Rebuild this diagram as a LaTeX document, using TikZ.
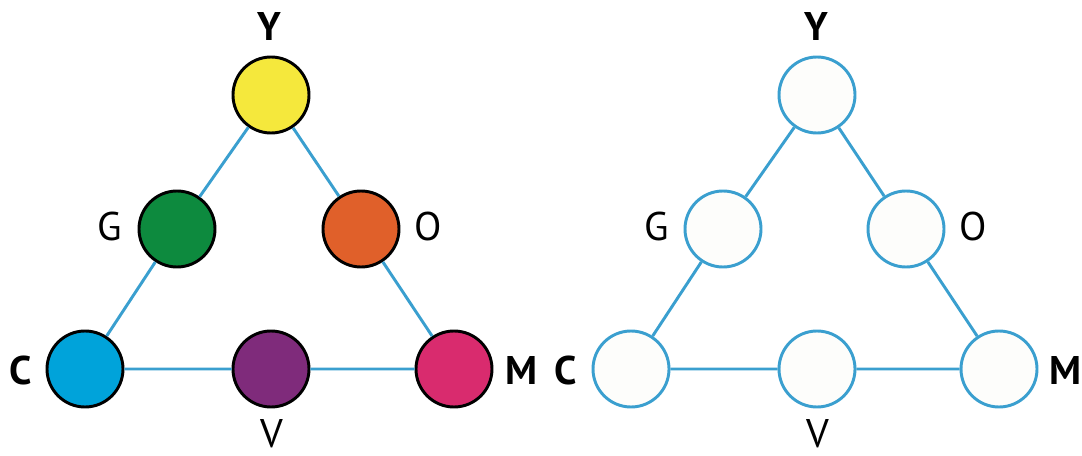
\documentclass[tikz,border=0pt]{standalone}
\usepackage{fontspec}
\setmainfont{PT Sans}
\usepackage{tikz}

\definecolor{linkblue}{HTML}{3A9FCF}
\definecolor{cyell}{HTML}{F5E83C}
\definecolor{cgreen}{HTML}{0D8A3E}
\definecolor{corange}{HTML}{E0602A}
\definecolor{ccyan}{HTML}{00A3DA}
\definecolor{cpurple}{HTML}{7F2B7B}
\definecolor{cmagenta}{HTML}{D92B6E}
\definecolor{paper}{HTML}{FDFDFB}

\tikzset{
  dot/.style={circle, draw=black, line width=2.2pt, minimum size=57pt, inner sep=0pt},
  ring/.style={circle, draw=linkblue, fill=paper, line width=2.2pt, minimum size=57pt, inner sep=0pt},
  link/.style={linkblue, line width=2.2pt},
  lab/.style={inner sep=0pt, font=\fontsize{30}{31}\selectfont},
  blab/.style={lab, font=\fontsize{30}{31}\selectfont\bfseries}
}

\begin{document}
\begin{tikzpicture}[x=0.75pt, y=-0.75pt]
                      \useasboundingbox (0,0) rectangle (1082,456);
                      % coloured triangle
                      \node[dot, fill=cyell]    (Y1) at (271,95)  {};
                      \node[dot, fill=cgreen]   (G1) at (177,229) {};
                      \node[dot, fill=corange]  (O1) at (361,229) {};
                      \node[dot, fill=ccyan]    (C1) at (85,369)  {};
                      \node[dot, fill=cpurple]  (V1) at (271,369) {};
                      \node[dot, fill=cmagenta] (M1) at (454,369) {};
                      \draw[link] (Y1) -- (G1) (G1) -- (C1) (Y1) -- (O1) (O1) -- (M1) (C1) -- (V1) (V1) -- (M1);
                      \node[blab] (y1) at (269,27)  {Y};
                      \node[lab]  (g1) at (110,227) {G};
                      \node[lab]  (o1) at (428,227) {O};
                      \node[blab] (c1) at (21,370)  {C};
                      \node[blab] (m1) at (521,370) {M};
                      \node[lab]  (v1) at (272,434) {V};
                      % empty triangle
                      \node[ring] (Y2) at (817,95)  {};
                      \node[ring] (G2) at (723,229) {};
                      \node[ring] (O2) at (906,229) {};
                      \node[ring] (C2) at (631,369) {};
                      \node[ring] (V2) at (817,369) {};
                      \node[ring] (M2) at (999,369) {};
                      \draw[link] (Y2) -- (G2) (G2) -- (C2) (Y2) -- (O2) (O2) -- (M2) (C2) -- (V2) (V2) -- (M2);
                      \node[blab] (y2) at (816,27)  {Y};
                      \node[lab]  (g2) at (657,227) {G};
                      \node[lab]  (o2) at (973,227) {O};
                      \node[blab] (c2) at (566,370) {C};
                      \node[blab] (m2) at (1065,370) {M};
                      \node[lab]  (v2) at (818,434) {V};
                  \end{tikzpicture}
\end{document}
